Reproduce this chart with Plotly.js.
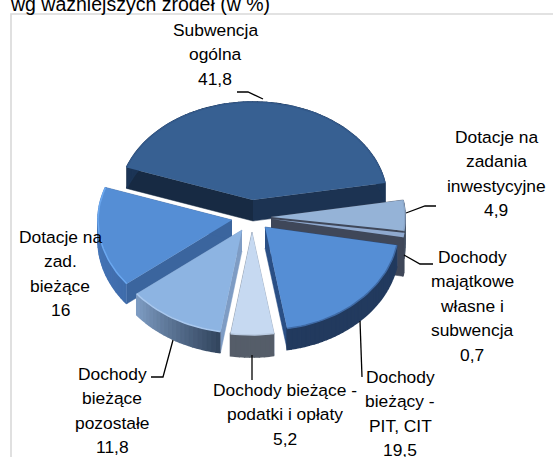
<!DOCTYPE html>
<html>
<head>
<meta charset="utf-8">
<script src="https://cdn.plot.ly/plotly-3.0.1.min.js"></script>
<style>html,body{margin:0;padding:0;background:#fff;overflow:hidden}#c{width:553px;height:457px}</style>
</head>
<body>
<div id="c"></div>
<script>
// DATA
var chartTitle = 'wg ważniejszych źródeł (w %)';
var categories = ['Subwencja|ogólna', 'Dotacje na|zadania|inwestycyjne', 'Dochody|majątkowe|własne i|subwencja', 'Dochody|bieżący -|PIT, CIT', 'Dochody bieżące -|podatki i opłaty', 'Dochody|bieżące|pozostałe', 'Dotacje na|zad.|bieżące'];
var values = [41.8, 4.9, 0.7, 19.5, 5.2, 11.8, 16];

// STYLE / LAYOUT
var startAngle = -70.6, rx = 134, ryBack = 98, ryFront = 103;
var center = [252, 214];
var explode = [[1,-14],[19,3],[19,5],[13,13],[0,18],[-10,16],[-20,6]];
var depths = [21, 28, 39, 21, 22, 21, 20];
var topCol = ['#376092','#95b3d7','#8fa9cf','#558ed5','#c6d9f1','#8db4e2','#558ed5'];
var rimCol = ['#1c3556','#4a5568','#3f4759','#223a5e','#555d69','#7d9bc2','#4a7cc0'];
var rimEnd = ['#1c3556','#4a5568','#3f4759','#223a5e','#555d69','#33465f','#3f6cab'];
var wallA  = ['#1c3352','#3f4759','#3f4759','#2a4f85','#6f7c8e','#7e9cc4','#3b659e'];
var wallB  = ['#172a43','#3f4759','#3f4759','#2a4f85','#8a9ab0','#7e9cc4','#3b659e'];
var edgeCol = ['#33598a','#8ba6c8','#8fa9cf','#3f6aa5','#b9cbe2','#a9c8ee','#6ba8f0'];
var drawOrder = [0,1,2,6,3,5,4];
var labelPos = [[215,30],[496,137],[472,257],[400,377],[285,390],[112,374],[60,237]];
var lineGap = 24.4;
var leaders = [
  [[237,92],[248,92],[263,99]],
  [[436,206],[425,206],[406,213]],
  [[433,264],[420,264],[404,255]],
  [[360,321],[362,377]],
  [[252,355],[252,380]],
  [[173,340],[163,377],[151,377]]
];

function hex(c){return [1,3,5].map(function(i){return parseInt(c.substr(i,2),16);});}
function mix(a,b,t){var A=hex(a),B=hex(b);return 'rgb('+A.map(function(v,i){return Math.round(v+(B[i]-v)*t);}).join(',')+')';}
function pt(ax,ay,deg){
  var r=deg*Math.PI/180, c=Math.cos(r);
  return [ax+rx*Math.sin(r), ay-c*(c>0?ryBack:ryFront)];
}
function poly(pts,color,lw){
  return {type:'scatter',mode:'lines',x:pts.map(function(p){return p[0];}),y:pts.map(function(p){return p[1];}),
    fill:'toself',fillcolor:color,line:{width:lw===undefined?0.5:lw,color:color},hoverinfo:'skip',showlegend:false};
}
function path(pts,color,width){
  return {type:'scatter',mode:'lines',x:pts.map(function(p){return p[0];}),y:pts.map(function(p){return p[1];}),
    line:{width:width,color:color},hoverinfo:'skip',showlegend:false};
}

var total = values.reduce(function(a,b){return a+b;},0);
var angles=[], cum=startAngle;
values.forEach(function(v){var a=v/total*360;angles.push([cum,cum+a]);cum+=a;});

var traces=[];
traces.push(path([[11,457],[11,14],[553,14]],'#d9d9d9',1.6));

drawOrder.forEach(function(i){
  var ax=center[0]+explode[i][0], ay=center[1]+explode[i][1], d=depths[i];
  var a0=angles[i][0], a1=angles[i][1];
  var n=Math.max(4,Math.round((a1-a0)/2));
  var arc=[];
  for(var k=0;k<=n;k++){arc.push(pt(ax,ay,a0+(a1-a0)*k/n));}
  var first=arc[0], last=arc[n];
  traces.push(poly([[ax,ay],first,[first[0],first[1]+d],[ax,ay+d]],wallB[i]));
  traces.push(poly([[ax,ay],last,[last[0],last[1]+d],[ax,ay+d]],wallA[i]));
  for(var j=0;j<n;j++){
    var p=arc[j],q=arc[j+1];
    traces.push(poly([p,q,[q[0],q[1]+d],[p[0],p[1]+d]],mix(rimEnd[i],rimCol[i],j/(n-1||1)),1.6));
  }
  traces.push(poly([[ax,ay]].concat(arc),topCol[i],0));
  traces.push(path(arc,edgeCol[i],1.5));
});

leaders.forEach(function(l){traces.push(path(l,'#000000',1.3));});

var annotations=[];
categories.forEach(function(c,i){
  var lines=c.split('|').concat(String(values[i]).replace('.',','));
  lines.forEach(function(t,k){
    annotations.push({xref:'x',yref:'y',x:labelPos[i][0],y:labelPos[i][1]+k*lineGap,text:t,showarrow:false,
      xanchor:'center',yanchor:'middle',font:{family:'"Liberation Sans",Arial,sans-serif',size:17.4,color:'#000'}});
  });
});

var layout={
  width:553,height:457,margin:{l:0,r:0,t:0,b:0},paper_bgcolor:'#fff',plot_bgcolor:'#fff',showlegend:false,
  title:{text:chartTitle,x:11/553,xref:'paper',xanchor:'left',y:0.991,yanchor:'middle',yref:'container',automargin:false,
    font:{family:'"Liberation Sans",Arial,sans-serif',size:19.5,color:'#000'}},
  xaxis:{range:[0,553],visible:false,fixedrange:true},
  yaxis:{range:[457,0],visible:false,fixedrange:true},
  annotations:annotations
};
Plotly.newPlot('c',traces,layout,{displayModeBar:false,staticPlot:true});
</script>
</body>
</html>
